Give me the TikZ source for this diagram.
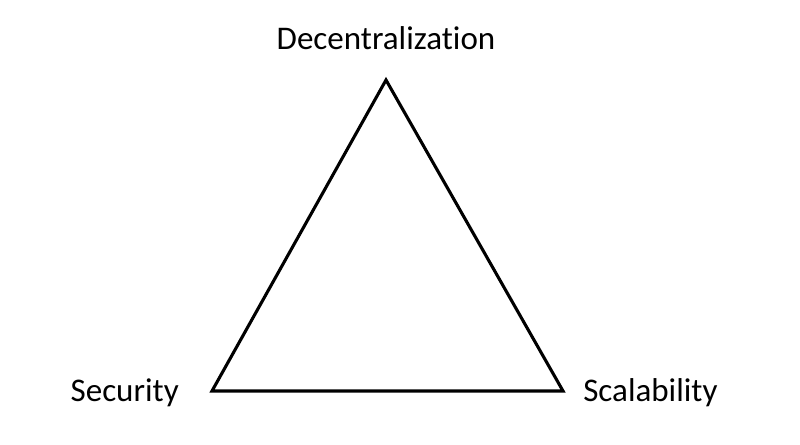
\documentclass[tikz,border=0pt]{standalone}
\usepackage{fontspec}
\setmainfont{Carlito}[Ligatures=NoCommon]

\tikzset{
  corner label/.style={inner sep=0pt, font=\fontsize{23.5}{28}\selectfont},
  side/.style={line width=2.2pt, black}
}

\begin{document}
\begin{tikzpicture}[x=0.025cm, y=0.025cm]
\useasboundingbox (0,0) rectangle (800,445);

\coordinate (top) at (386,365);
\coordinate (left) at (212,54);
\coordinate (right) at (563,54);

\draw[side] (top) -- (right) -- (left) -- cycle;

\node[corner label, anchor=base] (dec) at ([yshift=22]top) {Decentralization};
\node[corner label, anchor=base east] (sec) at ([shift={(-33,-11)}]left) {Security};
\node[corner label, anchor=base west] (sca) at ([shift={(20,-11)}]right) {Scalability};
\end{tikzpicture}
\end{document}
